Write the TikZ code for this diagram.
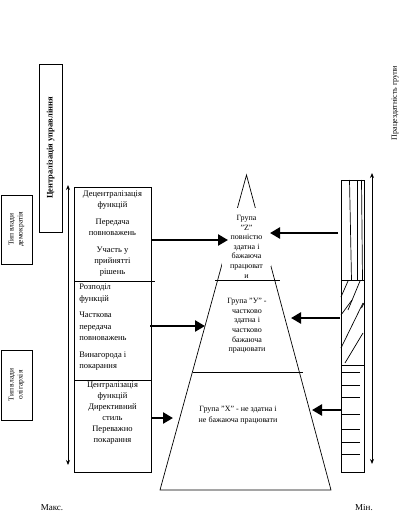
\documentclass[tikz,border=0pt]{standalone}
\usepackage{fontspec}
\setmainfont{Liberation Serif}
\usetikzlibrary{arrows.meta}
\begin{document}
\begin{tikzpicture}[x=1pt,y=-1pt,
  line width=0.7pt,
  txt/.style={font=\fontsize{8.5}{11}\selectfont, inner sep=0pt, align=center},
  ptxt/.style={font=\fontsize{8}{9.6}\selectfont, inner sep=0pt, align=center},
  bigarrow/.style={line width=2.8pt, -{Triangle[length=10pt,width=11pt]}},
  thinarrow/.style={line width=0.9pt, {Stealth[length=5pt,width=4pt]}-{Stealth[length=5pt,width=4pt]}},
  frame/.style={draw, line width=0.7pt},
]
\useasboundingbox (0,0) rectangle (403,522);

% side labels
\node[frame, rotate=90, minimum width=168pt, minimum height=23pt, inner sep=0pt,
      font=\bfseries\fontsize{8.5}{10}\selectfont] (cu) at (50.5,148) {Централізація управління};
\node[frame, rotate=90, minimum width=69pt, minimum height=31pt, txt,
      font=\fontsize{7.5}{9}\selectfont] (dem) at (16.5,229.5) {Тип влади\\демократія};
\node[frame, rotate=90, minimum width=70pt, minimum height=31pt, txt,
      font=\fontsize{7.5}{9}\selectfont] (olig) at (16.5,385) {Тип влади\\олігархія};

% left vertical double arrow
\coordinate (la1) at (68,185);
\coordinate (la2) at (68,465);
\draw[thinarrow] (la1) -- (la2);

% left column
\node[frame, minimum width=77pt, minimum height=285pt] (lcol) at (112.5,329.5) {};
\draw (74,281) -- (155,281);
\draw (74,380) -- (151,380);
\node[txt, anchor=north] (t1) at (112.5,191)
  {Децентралізація\\функцій\\[6pt]Передача\\повноважень\\[6pt]Участь у\\прийнятті\\рішень};
\node[txt, anchor=north west, align=left, font=\fontsize{8.5}{11.5}\selectfont] (t2) at (79,284)
  {Розподіл\\функцій\\[5pt]Часткова\\передача\\повноважень\\[5pt]Винагорода і\\покарання};
\node[txt, anchor=north] (t3) at (112.5,382)
  {Централізація\\функцій\\Директивний\\стиль\\Переважно\\покарання};

% pyramid
\coordinate (apex) at (246.5,175);
\coordinate (bl) at (160,490);
\coordinate (br) at (331,490);
\draw (apex) -- (br) -- (bl) -- cycle;
\fill[white] (222,208) rectangle (271,266);
\node[ptxt, anchor=north] (zt) at (246.5,215)
  {Група\\"Z"\\повністю\\здатна і\\бажаюча\\працюват\\и};
\draw (215,280) -- (280,280);
\draw (193,372) -- (303,372);
\node[ptxt, anchor=north] (yt) at (247,298)
  {Група "У" -\\частково\\здатна і\\частково\\бажаюча\\працювати};
\node[ptxt, font=\fontsize{8}{10.5}\selectfont, anchor=north] (xt) at (238,406)
  {Група "Х" - не здатна і\\не бажаюча працювати};

% big arrows
\coordinate (a1s) at (152,240); \coordinate (a1e) at (228,240);
\coordinate (a2s) at (150,326); \coordinate (a2e) at (205,326);
\coordinate (a3s) at (152,418); \coordinate (a3e) at (173,418);
\coordinate (b1s) at (338,233); \coordinate (b1e) at (270,233);
\coordinate (b2s) at (340,318); \coordinate (b2e) at (291,318);
\coordinate (b3s) at (342,410); \coordinate (b3e) at (312,410);
\draw[bigarrow] (a1s) -- (a1e);
\draw[bigarrow] (a2s) -- (a2e);
\draw[bigarrow] (a3s) -- (a3e);
\draw[bigarrow] (b1s) -- (b1e);
\draw[bigarrow] (b2s) -- (b2e);
\draw[bigarrow] (b3s) -- (b3e);

% right column
\node[frame, minimum width=23pt, minimum height=292pt] (rcol) at (352.5,326) {};
\draw (341,280) -- (364,280);
\draw (341,365) -- (364,365);
\draw (349.5,180) -- (351.5,280);
\draw (357,180) -- (357,280);
\draw (361.5,180) -- (362.5,280);
\draw (341,297) -- (348,281);
\draw (348,310) -- (360,281);
\draw (341,315) -- (352,300);
\draw (361.5,308) -- (364,303);
\draw (341,348) -- (363,303);
\draw (345,363) -- (363,333);
\foreach \yy in {372,385,397,414,429,442,454} \draw (341,\yy) -- (360,\yy);

% right vertical double arrow
\coordinate (ra1) at (372,173);
\coordinate (ra2) at (372,464);
\draw[thinarrow] (ra1) -- (ra2);
\node[txt, rotate=90, font=\fontsize{8}{10}\selectfont] (wk) at (395,103) {Працездатність групи};

% bottom labels
\node[txt, font=\fontsize{9}{11}\selectfont] (max) at (52,508) {Макс.};
\node[txt, font=\fontsize{9}{11}\selectfont] (min) at (364,508) {Мін.};
\end{tikzpicture}
\end{document}
